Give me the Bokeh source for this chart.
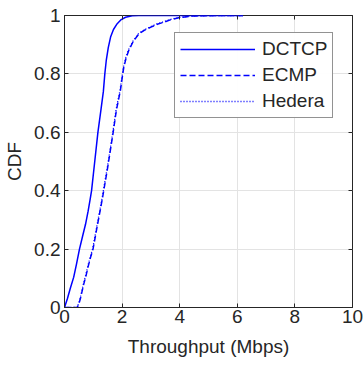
from bokeh.plotting import figure
from bokeh.models import Range1d, FixedTicker, LinearAxis, Legend
from bokeh.embed import file_html
from bokeh.resources import INLINE

# ---- data ----
dctcp_x = [0, 0.10, 0.20, 0.32, 0.42, 0.52, 0.63, 0.73, 0.82, 0.89, 0.94, 1.05, 1.16, 1.27, 1.35,
           1.40, 1.45, 1.52, 1.60, 1.70, 1.83, 1.97, 2.12, 2.35, 2.58, 3.2, 4.5, 6.2]
dctcp_y = [0, 0.03, 0.065, 0.104, 0.15, 0.20, 0.245, 0.285, 0.33, 0.37, 0.40, 0.50, 0.60, 0.68, 0.74,
           0.80, 0.846, 0.89, 0.926, 0.952, 0.972, 0.986, 0.994, 0.999, 1.0, 1.0, 1.0, 1.0]

ecmp_x = [0, 0.44, 0.50, 0.55, 0.61, 0.67, 0.75, 0.82, 0.90, 0.99, 1.13, 1.31, 1.50, 1.69, 1.80,
          1.94, 2.00, 2.06, 2.14, 2.23, 2.38, 2.58, 2.78, 3.00, 3.22, 3.45, 3.70, 4.00, 4.40, 5.30, 6.2]
ecmp_y = [0, 0.0, 0.012, 0.03, 0.055, 0.081, 0.11, 0.14, 0.17, 0.20, 0.275, 0.37, 0.48, 0.60, 0.675,
          0.743, 0.785, 0.823, 0.855, 0.880, 0.910, 0.937, 0.950, 0.960, 0.970, 0.977, 0.986, 0.993, 0.998, 1.0, 1.0]

hedera_x = [0, 0.43, 0.49, 0.54, 0.60, 0.66, 0.74, 0.81, 0.89, 0.98, 1.12, 1.30, 1.49, 1.68, 1.79,
            1.93, 1.99, 2.05, 2.13, 2.22, 2.37, 2.57, 2.77, 2.98, 3.20, 3.43, 3.68, 3.98, 4.37, 5.25, 6.2]
hedera_y = [0, 0.0, 0.013, 0.031, 0.056, 0.082, 0.112, 0.142, 0.172, 0.202, 0.277, 0.372, 0.482, 0.602, 0.677,
            0.745, 0.787, 0.825, 0.857, 0.882, 0.911, 0.938, 0.951, 0.961, 0.971, 0.978, 0.987, 0.993, 0.998, 1.0, 1.0]

x_ticks = [0, 2, 4, 6, 8, 10]
x_tick_labels = ["0", "2", "4", "6", "8", "10"]
y_ticks = [0, 0.2, 0.4, 0.6, 0.8, 1]
y_tick_labels = ["0", "0.2", "0.4", "0.6", "0.8", "1"]

FONT = "Liberation Sans"
TXT = "#262626"
AX = "#262626"
GRID = "#e3e3e3"
FS = "19px"

p = figure(width=364, height=365, output_backend="svg", toolbar_location=None,
           x_range=Range1d(0, 10), y_range=Range1d(0, 1),
           min_border_left=64, min_border_right=12, min_border_top=15, min_border_bottom=58,
           x_axis_label="Throughput (Mbps)", y_axis_label="CDF")

p.background_fill_color = "white"
p.border_fill_color = "white"
p.outline_line_color = AX
p.outline_line_width = 1

for ax, ticks, labels in ((p.xaxis[0], x_ticks, x_tick_labels), (p.yaxis[0], y_ticks, y_tick_labels)):
    ax.ticker = FixedTicker(ticks=ticks)
    ax.major_label_overrides = {t: l for t, l in zip(ticks, labels)}
    ax.minor_tick_line_color = None
    ax.major_tick_in = 4
    ax.major_tick_out = 0
    ax.major_tick_line_color = AX
    ax.axis_line_color = AX
    ax.major_label_text_font = FONT
    ax.major_label_text_font_size = FS
    ax.major_label_text_color = TXT
    ax.axis_label_text_font = FONT
    ax.axis_label_text_font_size = FS
    ax.axis_label_text_font_style = "normal"
    ax.axis_label_text_color = TXT

p.xaxis[0].major_label_standoff = 2
p.xaxis[0].axis_label_standoff = 10
p.yaxis[0].major_label_standoff = 4
p.yaxis[0].axis_label_standoff = 6

for loc, ticks in (("above", x_ticks), ("right", y_ticks)):
    a = LinearAxis(ticker=FixedTicker(ticks=ticks), major_label_text_font_size="1px",
                   major_label_text_color=None,
                   major_tick_in=4, major_tick_out=0, minor_tick_line_color=None,
                   major_tick_line_color=AX, axis_line_color=None, major_label_standoff=0)
    p.add_layout(a, loc)

p.xgrid.ticker = FixedTicker(ticks=x_ticks)
p.ygrid.ticker = FixedTicker(ticks=y_ticks)
p.xgrid.grid_line_color = GRID
p.ygrid.grid_line_color = GRID

BLUE = "#0000ff"
r1 = p.line(dctcp_x, dctcp_y, line_color=BLUE, line_width=1.5)
r2 = p.line(ecmp_x, ecmp_y, line_color=BLUE, line_width=1.5, line_dash="6 3")
r3 = p.line(hedera_x, hedera_y, line_color=BLUE, line_width=1.3, line_dash="1 2")

legend = Legend(items=[("DCTCP", [r1]), ("ECMP", [r2]), ("Hedera", [r3])],
                location=(110, 189), padding=5, spacing=4, glyph_width=75, glyph_height=20,
                label_height=20, label_standoff=7, margin=0,
                border_line_color=AX, border_line_width=1, background_fill_color="white",
                label_text_font=FONT, label_text_font_size=FS, label_text_color=TXT)
p.add_layout(legend, "center")

open("out.html", "w").write(file_html(p, INLINE))
